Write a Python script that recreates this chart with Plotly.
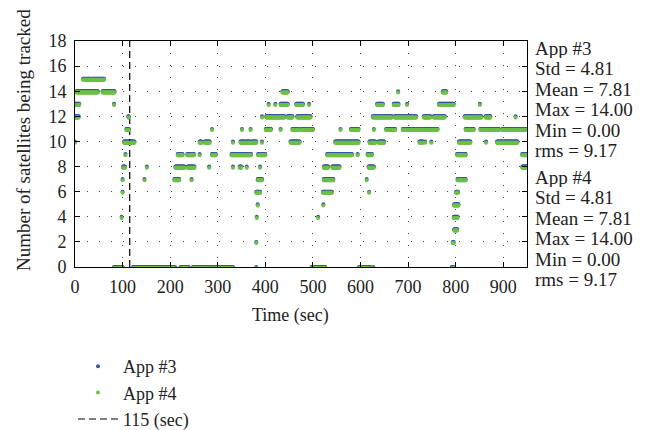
import numpy as np
import plotly.graph_objects as go

# Run-length segments: (start sec, end sec, satellites)
seg_start = [17, 25, 36, 45,
             3, 58, 436, 679, 773,
             0, 82, 407, 421, 432, 465, 492, 635, 670, 698, 765, 851,
             0, 112, 393, 402, 447, 467, 626, 672, 733, 754, 819, 863, 926,
             108, 288, 351, 369, 401, 432, 457, 475, 493, 558, 580, 628, 654, 689, 821, 852, 898, 947,
             0, 103, 262, 273, 332, 348, 359, 372, 393, 453, 547, 619, 638, 724, 736, 749, 807, 864, 887, 940,
             106, 216, 236, 262, 288, 329, 385, 530, 594, 615, 803, 940,
             101, 151, 211, 237, 282, 332, 346, 361, 389, 523, 541, 617, 804,
             100, 146, 209, 245, 384, 523, 613, 801,
             100, 381, 521, 618, 797,
             384, 522, 796,
             98, 382, 511, 797,
             794,
             381, 792,
             82, 122, 222, 248, 267, 291, 381, 497, 597, 627, 794]
seg_end = [22, 33, 43, 61,
           48, 83, 447, 679, 780,
           9, 82, 407, 421, 447, 479, 492, 647, 680, 698, 796, 851,
           8, 113, 393, 440, 457, 495, 666, 717, 747, 777, 854, 873, 926,
           113, 288, 351, 369, 412, 432, 469, 488, 500, 558, 596, 628, 673, 762, 838, 891, 943, 950,
           0, 125, 266, 283, 332, 356, 368, 381, 393, 472, 596, 631, 650, 731, 736, 749, 831, 864, 930, 950,
           106, 226, 250, 262, 296, 370, 400, 582, 594, 624, 821, 950,
           105, 151, 230, 251, 282, 332, 349, 361, 389, 532, 556, 628, 821,
           100, 146, 219, 245, 393, 543, 613, 805,
           100, 389, 540, 618, 806,
           384, 522, 804,
           98, 382, 511, 803,
           796,
           381, 796,
           100, 210, 239, 263, 286, 332, 381, 526, 620, 627, 796]
seg_sats = [15] * 4 + [14] * 5 + [13] * 12 + [12] * 13 + [11] * 18 + [10] * 19 + \
           [9] * 12 + [8] * 13 + [7] * 8 + [6] * 5 + [5] * 3 + [4] * 4 + [3] * 1 + [2] * 2 + [0] * 11

stat_labels = ["Std", "Mean", "Max", "Min", "rms"]
app3_stats = [4.81, 7.81, 14.00, 0.00, 9.17]
app4_stats = [4.81, 7.81, 14.00, 0.00, 9.17]
event_time = 115

x_ticks = list(range(0, 1000, 100))
y_ticks = list(range(0, 20, 2))

t_pts, v_pts = [], []
for s, e, v in zip(seg_start, seg_end, seg_sats):
    for t in range(s, e + 1):
        t_pts.append(t)
        v_pts.append(v)

FONT = "Liberation Serif"
BLUE = "#3a57a6"
GREEN = "#6cbf47"
TXT = "#222222"

# plot-area geometry (px)
L, R, T, B = 75, 527, 41, 267
PW, PH = R - L, B - T

def px_x(x):
    return (x - L) / PW

def px_y(y):
    return (B - y) / PH

# App #4 is drawn on an overlaid twin axis nudged ~1 px down, so App #3's edge peeks above it
nudge = 18 / PH * 1.2

fig = go.Figure()
fig.add_trace(go.Scatter(x=t_pts, y=v_pts, mode="markers", name="App #3",
                         marker=dict(color=BLUE, size=4, line=dict(width=0))))
fig.add_trace(go.Scatter(x=t_pts, y=v_pts, mode="markers", name="App #4", yaxis="y2",
                         marker=dict(color=GREEN, size=4, line=dict(width=0))))
fig.add_trace(go.Scatter(x=[event_time, event_time], y=[0, 18], mode="lines",
                         name="115 (sec)",
                         line=dict(color="black", width=1.2, dash="7px,4px")))

axis_common = dict(showline=True, linecolor="black", linewidth=1, mirror="ticks",
                   ticks="inside", ticklen=5, tickcolor="black", showgrid=True,
                   gridcolor="#444444", gridwidth=1, griddash="1px,11px",
                   zeroline=False, tickfont=dict(family=FONT, size=18, color=TXT))

fig.update_xaxes(range=[0, 950], tickvals=x_ticks, ticklabelstandoff=3, **axis_common)
fig.update_yaxes(range=[0, 18], tickvals=y_ticks, ticklabelstandoff=4, **axis_common)
fig.update_layout(yaxis2=dict(overlaying="y", range=[nudge, 18 + nudge], visible=False,
                              showgrid=False, zeroline=False))

ann = []
ann.append(dict(text="Number of satellites being tracked", textangle=-90,
                xref="paper", yref="paper", x=px_x(23), y=px_y(140),
                xanchor="center", yanchor="middle", showarrow=False,
                font=dict(family=FONT, size=19, color=TXT)))
ann.append(dict(text="Time (sec)", xref="paper", yref="paper",
                x=px_x(290), y=px_y(315), xanchor="center", yanchor="middle",
                showarrow=False, font=dict(family=FONT, size=18, color=TXT)))

def add_block(title, stats, y0):
    lines = [title] + [f"{lab} = {val:.2f}" for lab, val in zip(stat_labels, stats)]
    for i, line in enumerate(lines):
        ann.append(dict(text=line, xref="paper", yref="paper",
                        x=px_x(533), y=px_y(y0 + i * 20.4), height=20,
                        xanchor="left", yanchor="middle", showarrow=False,
                        font=dict(family=FONT, size=19, color=TXT)))

add_block("App #3", app3_stats, 48)
add_block("App #4", app4_stats, 177)

fig.update_layout(
    width=659, height=430,
    margin=dict(l=L, r=659 - R, t=T, b=430 - B, autoexpand=False),
    plot_bgcolor="white", paper_bgcolor="white",
    annotations=ann,
    legend=dict(x=px_x(73), y=px_y(348), xanchor="left", yanchor="top",
                font=dict(family=FONT, size=18, color=TXT), itemwidth=40,
                bgcolor="rgba(0,0,0,0)", tracegroupgap=0),
    showlegend=True,
)

fig.write_html("out.html", config={"displayModeBar": False},
               post_script="document.body.style.margin='0';")
